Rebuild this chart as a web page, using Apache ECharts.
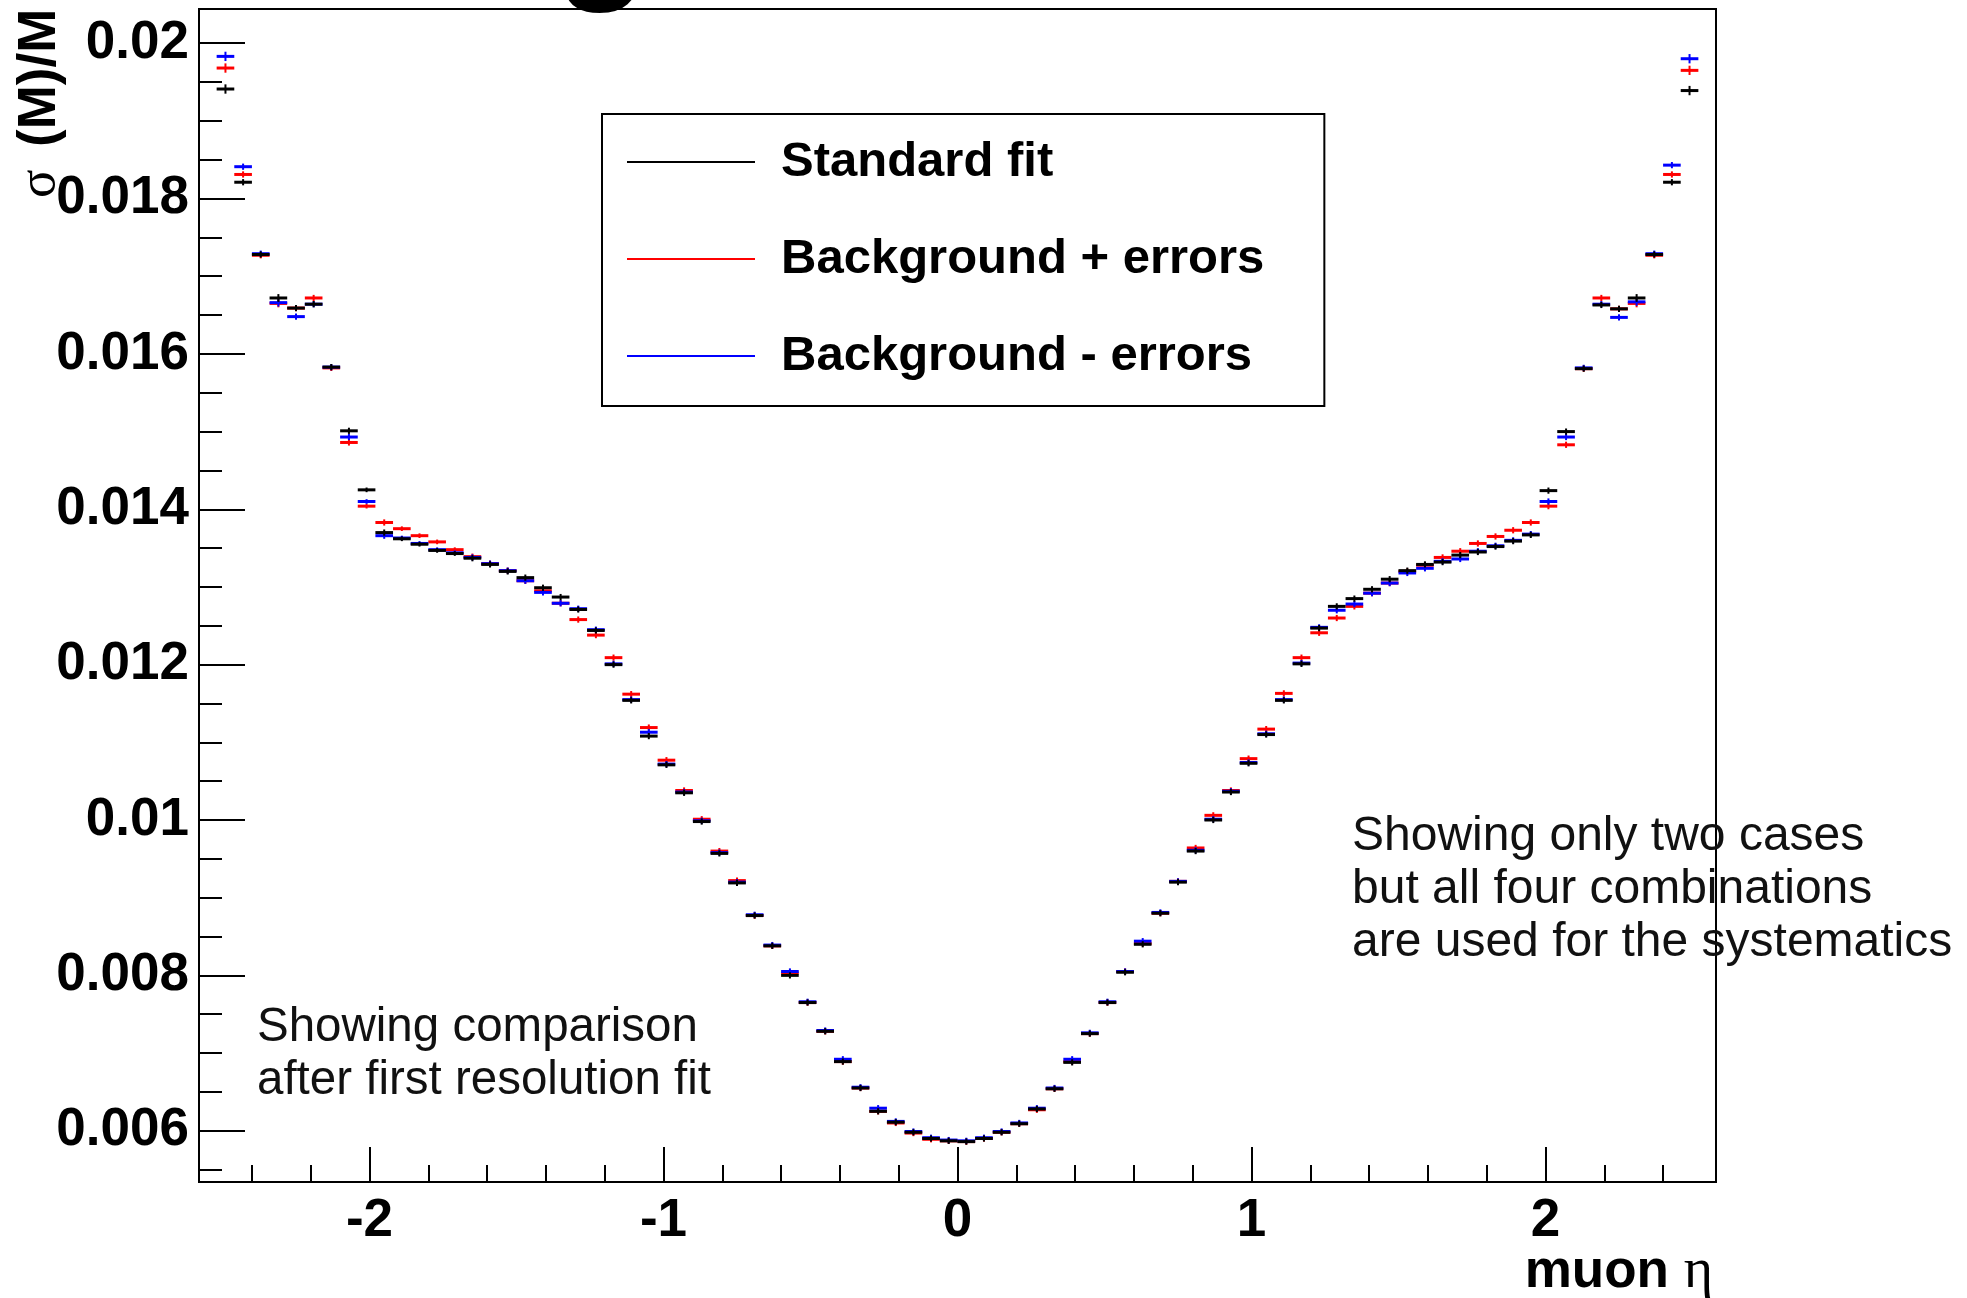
<!DOCTYPE html>
<html>
<head>
<meta charset="utf-8">
<script src="https://cdn.jsdelivr.net/npm/echarts@6/dist/echarts.min.js"></script>
<style>
  html, body { margin: 0; padding: 0; background: #fff; }
  #chart { width: 1967px; height: 1298px; }
</style>
</head>
<body>
<div id="chart"></div>
<script>
// Muon eta bin centres (bins of width 0.06)
const etaCenters = [
  -2.49,-2.43,-2.37,-2.31,-2.25,-2.19,-2.13,-2.07,-2.01,-1.95,
  -1.89,-1.83,-1.77,-1.71,-1.65,-1.59,-1.53,-1.47,-1.41,-1.35,
  -1.29,-1.23,-1.17,-1.11,-1.05,-0.99,-0.93,-0.87,-0.81,-0.75,
  -0.69,-0.63,-0.57,-0.51,-0.45,-0.39,-0.33,-0.27,-0.21,-0.15,
  -0.09,-0.03, 0.03, 0.09, 0.15, 0.21, 0.27, 0.33, 0.39, 0.45,
   0.51, 0.57, 0.63, 0.69, 0.75, 0.81, 0.87, 0.93, 0.99, 1.05,
   1.11, 1.17, 1.23, 1.29, 1.35, 1.41, 1.47, 1.53, 1.59, 1.65,
   1.71, 1.77, 1.83, 1.89, 1.95, 2.01, 2.07, 2.13, 2.19, 2.25,
   2.31, 2.37, 2.43, 2.49
];

// sigma(M)/M per bin
const standardFit = [
  0.01941,0.01821,0.01728,0.01672,0.01659,0.01664,0.01583,0.01501,0.01425,0.01370,
  0.01362,0.01355,0.01347,0.01343,0.01337,0.01329,0.01320,0.01312,0.01299,0.01287,
  0.01271,0.01244,0.01200,0.01154,0.01108,0.01071,0.01035,0.00998,0.00957,0.00919,
  0.00877,0.00838,0.00800,0.00765,0.00728,0.00689,0.00655,0.00625,0.00611,0.00598,
  0.00590,0.00587,0.00586,0.00590,0.00598,0.00609,0.00628,0.00654,0.00688,0.00725,
  0.00765,0.00804,0.00840,0.00880,0.00920,0.00960,0.01000,0.01036,0.01073,0.01110,
  0.01154,0.01201,0.01247,0.01275,0.01285,0.01297,0.01310,0.01321,0.01329,0.01332,
  0.01341,0.01345,0.01352,0.01359,0.01367,0.01424,0.01500,0.01581,0.01663,0.01658,
  0.01672,0.01728,0.01821,0.01939
];

const bkgPlusErrors = [
  0.01968,0.01831,0.01727,0.01665,0.01659,0.01672,0.01582,0.01486,0.01404,0.01383,
  0.01375,0.01366,0.01358,0.01348,0.01339,0.01330,0.01321,0.01308,0.01295,0.01279,
  0.01258,0.01238,0.01209,0.01162,0.01119,0.01077,0.01038,0.01001,0.00960,0.00922,
  0.00877,0.00838,0.00803,0.00765,0.00728,0.00689,0.00655,0.00625,0.00610,0.00597,
  0.00589,0.00587,0.00586,0.00590,0.00598,0.00609,0.00627,0.00654,0.00689,0.00725,
  0.00765,0.00805,0.00841,0.00880,0.00921,0.00964,0.01006,0.01038,0.01079,0.01117,
  0.01163,0.01209,0.01241,0.01260,0.01275,0.01292,0.01305,0.01320,0.01328,0.01338,
  0.01346,0.01356,0.01365,0.01373,0.01383,0.01404,0.01483,0.01581,0.01672,0.01658,
  0.01665,0.01727,0.01831,0.01965
];

const bkgMinusErrors = [
  0.01983,0.01841,0.01729,0.01666,0.01648,0.01664,0.01583,0.01493,0.01410,0.01366,
  0.01363,0.01356,0.01348,0.01344,0.01338,0.01330,0.01321,0.01308,0.01293,0.01279,
  0.01272,0.01245,0.01201,0.01155,0.01113,0.01072,0.01036,0.00999,0.00958,0.00920,
  0.00878,0.00839,0.00805,0.00766,0.00729,0.00692,0.00656,0.00629,0.00612,0.00599,
  0.00591,0.00588,0.00587,0.00591,0.00599,0.00610,0.00629,0.00655,0.00692,0.00726,
  0.00766,0.00805,0.00844,0.00881,0.00921,0.00961,0.01001,0.01037,0.01074,0.01111,
  0.01155,0.01202,0.01248,0.01270,0.01278,0.01292,0.01305,0.01318,0.01324,0.01333,
  0.01336,0.01346,0.01353,0.01360,0.01368,0.01410,0.01493,0.01582,0.01664,0.01647,
  0.01667,0.01729,0.01843,0.01980
];

// statistical error per bin, in units of 1e-5
const sigmaErrE5 = [
  6,4,4,5,4,4,4,4,3,4,
  3,3,3,3,4,4,4,4,4,4,
  4,4,4,4,4,4,4,4,4,4,
  4,4,4,4,4,4,4,4,4,4,
  4,4,4,4,4,4,4,4,4,4,
  4,4,4,4,4,4,4,4,4,4,
  4,4,4,4,4,4,4,4,4,4,
  4,4,4,4,4,4,4,4,4,4,
  5,4,4,6
];

// axis ticks
const xMajorTicks = [-2, -1, 0, 1, 2];
const xMinorTicks = [-2.4,-2.2,-1.8,-1.6,-1.4,-1.2,-0.8,-0.6,-0.4,-0.2,
                      0.2, 0.4, 0.6, 0.8, 1.2, 1.4, 1.6, 1.8, 2.2, 2.4];
const yMajorTicks = [0.006, 0.008, 0.010, 0.012, 0.014, 0.016, 0.018, 0.020];
const yMinorTicks = [0.0055,0.0065,0.007,0.0075,0.0085,0.009,0.0095,0.0105,0.011,0.0115,
                     0.0125,0.013,0.0135,0.0145,0.015,0.0155,0.0165,0.017,0.0175,0.0185,
                     0.019,0.0195];

const seriesNames = ['Standard fit', 'Background + errors', 'Background - errors'];
const seriesColors = ['#000000', '#ff0000', '#0000ff'];

const HALF_BIN = 0.03;

function binData(values) {
  return values.map((v, i) => [etaCenters[i], v, sigmaErrE5[i] * 1e-5]);
}

function makeRenderer(color) {
  return function (params, api) {
    const x = api.value(0), y = api.value(1), e = api.value(2);
    const l = api.coord([x - HALF_BIN, y]);
    const r = api.coord([x + HALF_BIN, y]);
    const t = api.coord([x, y + e]);
    const b = api.coord([x, y - e]);
    return {
      type: 'group',
      children: [
        { type: 'line', shape: { x1: l[0], y1: l[1], x2: r[0], y2: r[1] },
          style: { stroke: color, lineWidth: 3 } },
        { type: 'line', shape: { x1: t[0], y1: t[1], x2: b[0], y2: b[1] },
          style: { stroke: color, lineWidth: 2 } }
      ]
    };
  };
}

function binSeries(idx, values, z) {
  return {
    name: seriesNames[idx],
    type: 'custom',
    clip: true,
    itemStyle: { color: seriesColors[idx] },
    renderItem: makeRenderer(seriesColors[idx]),
    encode: { x: 0, y: 1 },
    data: binData(values),
    z: z
  };
}

const FONT = '"Liberation Sans", Arial, Helvetica, sans-serif';
const SERIF = '"Liberation Serif", "DejaVu Serif", serif';

const chart = echarts.init(document.getElementById('chart'), null, { renderer: 'canvas' });

chart.setOption({
  backgroundColor: '#ffffff',
  animation: false,
  grid: {
    left: 199, top: 9, width: 1517, height: 1173,
    show: true, borderColor: '#000', borderWidth: 2, backgroundColor: 'transparent'
  },
  xAxis: [
    {
      type: 'value', min: -2.58, max: 2.58,
      axisLine: { show: false, onZero: false },
      splitLine: { show: false },
      axisTick: { show: true, inside: true, length: 35, customValues: xMajorTicks,
                  lineStyle: { color: '#000', width: 2 } },
      axisLabel: { show: true, customValues: xMajorTicks, margin: 13,
                   fontSize: 53, fontWeight: 'bold', fontFamily: FONT, color: '#000',
                   formatter: v => String(v) }
    },
    {
      type: 'value', min: -2.58, max: 2.58, position: 'bottom',
      axisLine: { show: false, onZero: false },
      splitLine: { show: false },
      axisTick: { show: true, inside: true, length: 17, customValues: xMinorTicks,
                  lineStyle: { color: '#000', width: 2 } },
      axisLabel: { show: false }
    }
  ],
  yAxis: [
    {
      type: 'value', min: 0.00534, max: 0.02044, position: 'left',
      axisLine: { show: false, onZero: false },
      splitLine: { show: false },
      axisTick: { show: true, inside: true, length: 46, customValues: yMajorTicks,
                  lineStyle: { color: '#000', width: 2 } },
      axisLabel: { show: true, customValues: yMajorTicks, margin: 10,
                   fontSize: 53, fontWeight: 'bold', fontFamily: FONT, color: '#000',
                   formatter: v => String(Math.round(v * 1000) / 1000) }
    },
    {
      type: 'value', min: 0.00534, max: 0.02044, position: 'left', offset: 0,
      axisLine: { show: false, onZero: false },
      splitLine: { show: false },
      axisTick: { show: true, inside: true, length: 23, customValues: yMinorTicks,
                  lineStyle: { color: '#000', width: 2 } },
      axisLabel: { show: false }
    }
  ],
  legend: {
    orient: 'vertical',
    left: 602, top: 114,
    padding: [23, 60, 25, 25],
    itemGap: 47,
    itemWidth: 128, itemHeight: 2,
    icon: 'rect',
    borderColor: '#000', borderWidth: 2,
    backgroundColor: '#fff',
    selectedMode: false,
    data: seriesNames,
    textStyle: { fontSize: 49, fontWeight: 'bold', fontFamily: FONT, color: '#000',
                 lineHeight: 50, padding: [0, 0, 0, 21] }
  },
  series: [
    binSeries(1, bkgPlusErrors, 2),
    binSeries(2, bkgMinusErrors, 3),
    binSeries(0, standardFit, 4)
  ],
  graphic: [
    // clipped slide heading above the frame
    {
      type: 'text', x: 556, y: 15,
      style: {
        text: 'g', fontSize: 150, fontWeight: 'bold', fontFamily: FONT, fill: '#000',
        textVerticalAlign: 'bottom'
      }
    },
    // y-axis title, reading bottom to top
    {
      type: 'text', x: 67, y: 198, rotation: Math.PI / 2,
      style: {
        text: 'σ', fontSize: 53, fontFamily: SERIF, fill: '#000',
        textAlign: 'left', textVerticalAlign: 'bottom'
      }
    },
    {
      type: 'text', x: 67, y: 147, rotation: Math.PI / 2,
      style: {
        text: '(M)/M', fontSize: 53, fontWeight: 'bold', fontFamily: FONT, fill: '#000',
        textAlign: 'left', textVerticalAlign: 'bottom'
      }
    },
    // x-axis title
    {
      type: 'text', x: 1713, y: 1300,
      style: {
        text: '{b|muon }{s|η}',
        textAlign: 'right', textVerticalAlign: 'bottom',
        rich: {
          b: { fontSize: 53, fontWeight: 'bold', fontFamily: FONT, color: '#000' },
          s: { fontSize: 56, fontFamily: SERIF, color: '#000' }
        }
      }
    },
    {
      type: 'text', x: 257, y: 1001,
      style: {
        text: 'Showing comparison\nafter first resolution fit',
        fontSize: 47.5, fontFamily: FONT, fill: '#111', lineHeight: 53,
        textVerticalAlign: 'top'
      }
    },
    {
      type: 'text', x: 1352, y: 810,
      style: {
        text: 'Showing only two cases\nbut all four combinations\nare used for the systematics',
        fontSize: 48, fontFamily: FONT, fill: '#111', lineHeight: 53,
        textVerticalAlign: 'top'
      }
    }
  ]
});
</script>
</body>
</html>
